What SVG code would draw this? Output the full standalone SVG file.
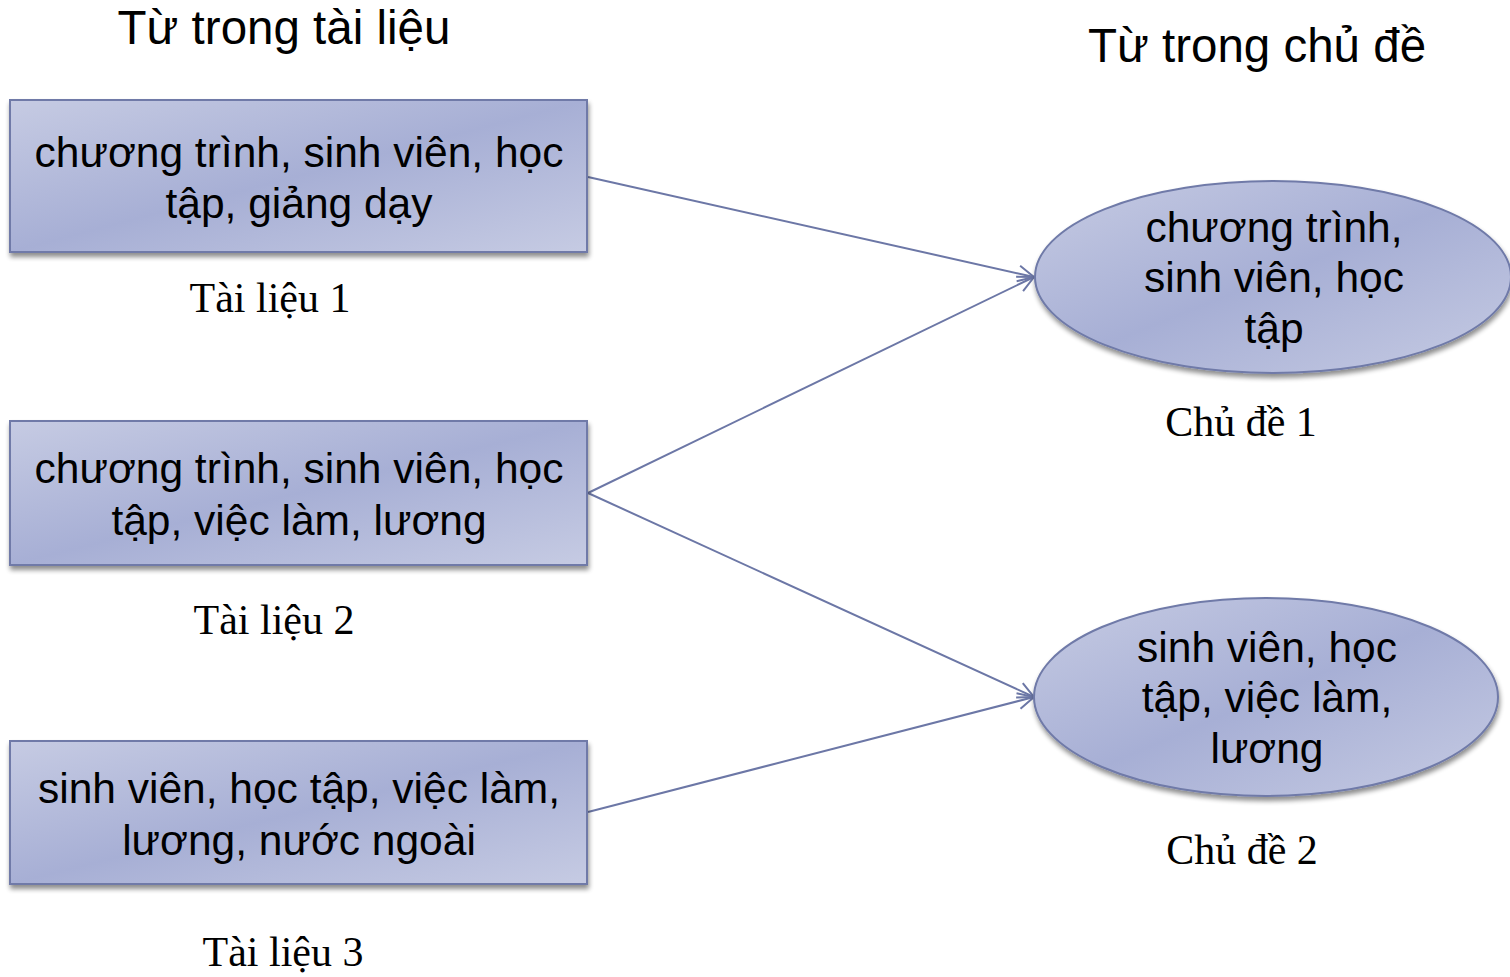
<svg xmlns="http://www.w3.org/2000/svg" width="1510" height="977" viewBox="0 0 1510 977">
  <defs>
    <linearGradient id="fillGrad" x1="0" y1="0" x2="1" y2="1">
      <stop offset="0" stop-color="#c6cbe3"/>
      <stop offset="0.5" stop-color="#a7afd5"/>
      <stop offset="1" stop-color="#c6cbe3"/>
    </linearGradient>
    <filter id="shadow" x="-10%" y="-10%" width="120%" height="130%">
      <feGaussianBlur in="SourceAlpha" stdDeviation="2.5"/>
      <feOffset dx="1" dy="4" result="b"/>
      <feComponentTransfer><feFuncA type="linear" slope="0.45"/></feComponentTransfer>
      <feMerge><feMergeNode/><feMergeNode in="SourceGraphic"/></feMerge>
    </filter>
    <marker id="arrow" viewBox="0 0 20 20" refX="18" refY="10" markerWidth="20" markerHeight="20" markerUnits="userSpaceOnUse" orient="auto">
      <path d="M2,2 L18,10 L2,18" fill="none" stroke="#6c77a6" stroke-width="2"/>
    </marker>
    <style>
      .node { fill: url(#fillGrad); stroke: #6f7aa8; stroke-width: 2; filter: url(#shadow); }
      .nt { font-family: "Liberation Sans", Arial, sans-serif; font-size: 42.5px; fill: #000; text-anchor: middle; }
      .lbl { font-family: "Liberation Serif", "Times New Roman", serif; font-size: 42px; fill: #000; text-anchor: middle; }
      .hd { font-family: "Liberation Sans", Arial, sans-serif; font-size: 47.5px; fill: #000; text-anchor: middle; }
      .conn { stroke: #6c77a6; stroke-width: 2; fill: none; marker-end: url(#arrow); }
    </style>
  </defs>
  <rect width="1510" height="977" fill="#ffffff"/>

  <!-- column headings -->
  <text class="hd" x="284" y="44">Từ trong tài liệu</text>
  <text class="hd" x="1257" y="62">Từ trong chủ đề</text>

  <!-- connectors -->
  <g id="connectors">
    <line class="conn" x1="588" y1="177" x2="1034" y2="277"/>
    <line class="conn" x1="588" y1="493" x2="1034" y2="277"/>
    <line class="conn" x1="588" y1="493" x2="1034" y2="697"/>
    <line class="conn" x1="588" y1="812" x2="1034" y2="697"/>
  </g>

  <!-- documents -->
  <g id="doc1">
    <rect class="node" x="10" y="100" width="577" height="152"/>
    <text class="nt" x="299" y="167">chương trình, sinh viên, học</text>
    <text class="nt" x="299" y="218">tập, giảng dạy</text>
    <text class="lbl" x="270" y="312">Tài liệu 1</text>
  </g>
  <g id="doc2">
    <rect class="node" x="10" y="421" width="577" height="144"/>
    <text class="nt" x="299" y="483">chương trình, sinh viên, học</text>
    <text class="nt" x="299" y="535">tập, việc làm, lương</text>
    <text class="lbl" x="274" y="634">Tài liệu 2</text>
  </g>
  <g id="doc3">
    <rect class="node" x="10" y="741" width="577" height="143"/>
    <text class="nt" x="299" y="803">sinh viên, học tập, việc làm,</text>
    <text class="nt" x="299" y="855">lương, nước ngoài</text>
    <text class="lbl" x="283" y="966">Tài liệu 3</text>
  </g>

  <!-- topics -->
  <g id="topic1">
    <ellipse class="node" cx="1273" cy="277" rx="238" ry="96"/>
    <text class="nt" x="1274" y="242">chương trình,</text>
    <text class="nt" x="1274" y="292">sinh viên, học</text>
    <text class="nt" x="1274" y="343">tập</text>
    <text class="lbl" x="1241" y="436">Chủ đề 1</text>
  </g>
  <g id="topic2">
    <ellipse class="node" cx="1266" cy="697" rx="232" ry="99"/>
    <text class="nt" x="1267" y="662">sinh viên, học</text>
    <text class="nt" x="1267" y="712">tập, việc làm,</text>
    <text class="nt" x="1267" y="763">lương</text>
    <text class="lbl" x="1242" y="864">Chủ đề 2</text>
  </g>
</svg>
